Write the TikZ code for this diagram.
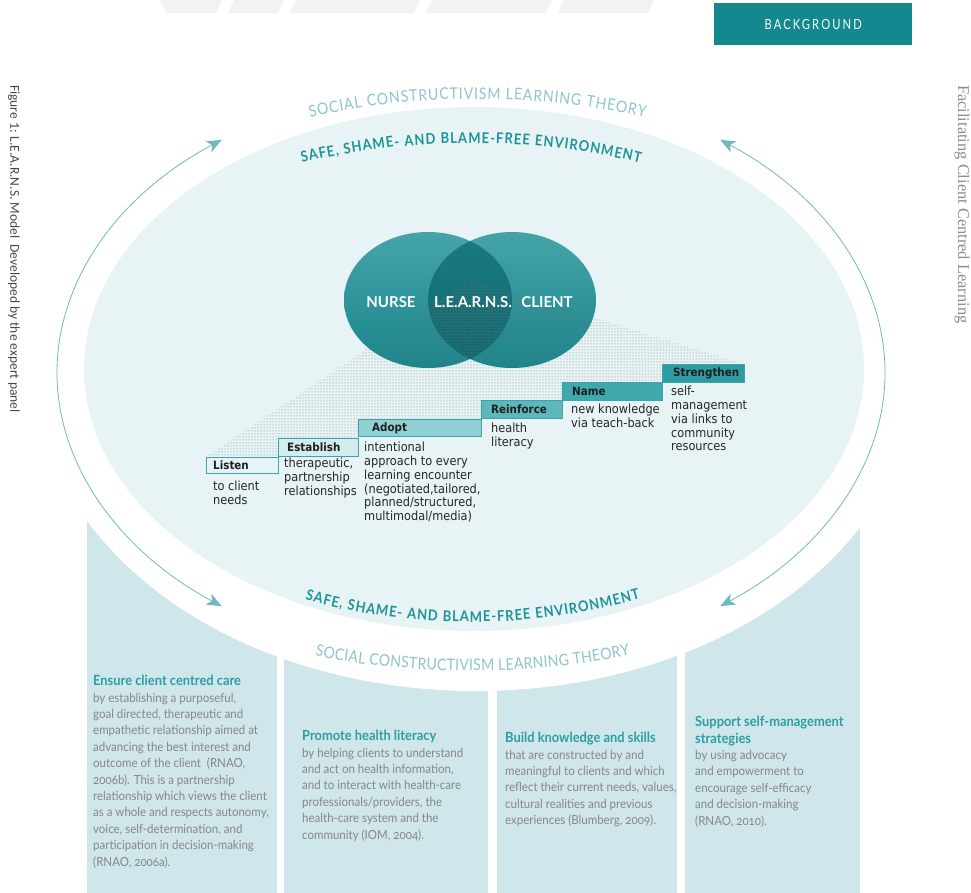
\documentclass[tikz,border=0pt]{standalone}
\usepackage{fontspec}
\setmainfont{Lato}
\newfontfamily\arcfont{Lato}[FakeStretch=0.88]
\newfontfamily\boxfont{Lato}[FakeStretch=0.92,Numbers=OldStyle]
\newfontfamily\bgfont{Lato}[FakeStretch=0.8,LetterSpace=15]
\newfontfamily\stepfont{DejaVu Sans}[FakeStretch=0.9]
\newfontfamily\capfont{Carlito}
\newfontfamily\runfont{Liberation Serif}
\usetikzlibrary{arrows.meta,decorations.text,patterns}

\definecolor{bannerc}{HTML}{13898F}
\definecolor{ellfill}{HTML}{E7F3F4}
\definecolor{boxfill}{HTML}{CFE6EA}
\definecolor{socialc}{HTML}{8CC6CA}
\definecolor{safec}{HTML}{1D949A}
\definecolor{arrowc}{HTML}{6FBABF}
\definecolor{titlec}{HTML}{2C9EA4}
\definecolor{bodyc}{HTML}{878787}
\definecolor{vennhi}{HTML}{45A4A9}
\definecolor{vennlo}{HTML}{1A858B}
\definecolor{lenshi}{HTML}{1A7A80}
\definecolor{lenslo}{HTML}{0E676E}
\definecolor{stepedge}{HTML}{3DA3A9}
\definecolor{stepA}{HTML}{E6F4F5}
\definecolor{stepB}{HTML}{D2ECEF}
\definecolor{stepC}{HTML}{8FD0D4}
\definecolor{stepD}{HTML}{5DB8BD}
\definecolor{stepE}{HTML}{40A9AE}
\definecolor{stepF}{HTML}{2E9DA3}
\definecolor{tabc}{HTML}{F2F2F2}

\tikzset{
  stepbox/.style={draw=stepedge, line width=1.1pt, inner sep=0pt, anchor=north west},
  steplabel/.style={font=\stepfont\bfseries\fontsize{11.5}{13}\selectfont, text=black!88, inner sep=0pt, anchor=west},
  stepbody/.style={font=\stepfont\fontsize{12.6}{13.8}\selectfont, align=left, inner sep=0pt, anchor=north west, text=black!85},
  bottombox/.style={fill=boxfill, inner sep=0pt, anchor=north west, minimum height=413pt},
  boxtext/.style={font=\boxfont\fontsize{12.5}{16.4}\selectfont, text=bodyc, align=left, inner sep=0pt, anchor=north west},
  venntext/.style={font=\bfseries\fontsize{15}{17}\selectfont, text=white, inner sep=0pt},
  cyclearrow/.style={draw=arrowc, line width=0.8pt,
    {Stealth[length=15pt,width=12pt,inset=4pt,fill=arrowc]}-{Stealth[length=15pt,width=12pt,inset=4pt,fill=arrowc]}},
  arctext/.style={decorate, decoration={text along path, text align=fit to path}},
}
\newcommand{\boxtitle}[1]{{\fontsize{14}{16.4}\selectfont\bfseries\color{titlec}#1}}

\begin{document}
\begin{tikzpicture}[x=1pt,y=1pt]
  % canvas
  \fill[white] (0,0) rectangle (971,-893);
  \path[use as bounding box] (0,0) rectangle (971,-893);

  % faint tabs along the top edge
  \fill[tabc] (160,0) -- (222,0) -- (216,-13) -- (166,-13) -- cycle;
  \fill[tabc] (234,0) -- (284,0) -- (278,-13) -- (228,-13) -- cycle;
  \fill[tabc] (296,0) -- (420,0) -- (414,-13) -- (290,-13) -- cycle;
  \fill[tabc] (432,0) -- (552,0) -- (546,-13) -- (426,-13) -- cycle;
  \fill[tabc] (564,0) -- (654,0) -- (648,-13) -- (558,-13) -- cycle;

  % section banner
  \node[fill=bannerc, minimum width=198pt, minimum height=42pt, inner sep=0pt, anchor=north west,
        font=\bgfont\fontsize{14}{16}\selectfont, text=white] (banner) at (714,-3) {BACKGROUND};

  % running heads
  \node[rotate=-90, anchor=west, inner sep=0pt, font=\capfont\fontsize{13.5}{15}\selectfont, text=black!72]
    (figcap) at (14,-85) {Figure 1: L.E.A.R.N.S. Model\ \ Developed by the expert panel};
  \node[rotate=-90, anchor=west, inner sep=0pt, font=\runfont\fontsize{16.4}{18}\selectfont, text=black!45]
    (runhead) at (962,-85) {Facilitating Client Centred Learning};

  % the four strategy columns
  \node[bottombox, minimum width=190pt] (box1) at (87,-480) {};
  \node[bottombox, minimum width=204pt] (box2) at (284,-480) {};
  \node[bottombox, minimum width=180pt] (box3) at (497,-480) {};
  \node[bottombox, minimum width=175pt] (box4) at (685,-480) {};

  % white band and the environment ellipse
  \fill[white] (476,-371) ellipse [x radius=440pt, y radius=320pt];
  \fill[ellfill] (474,-369) ellipse [x radius=390pt, y radius=262pt];

  % cycle arrows round the model
  \draw[cyclearrow] ([shift={(127:414 and 292)}]471,-373) arc [start angle=127, end angle=233, x radius=414pt, y radius=292pt];
  \draw[cyclearrow] ([shift={(53:414 and 292)}]471,-373) arc [start angle=53, end angle=-53, x radius=414pt, y radius=292pt];

  % curved captions
  \path[arctext, decoration={text color=socialc,
      text={|\arcfont\fontsize{16}{16}\selectfont|SOCIAL CONSTRUCTIVISM LEARNING THEORY}}]
    ([shift={(102.46:774)}]477,-873) arc [start angle=102.46, end angle=77.47, radius=774pt];
  \path[arctext, decoration={text color=safec,
      text={|\arcfont\bfseries\fontsize{14.8}{16}\selectfont|SAFE, SHAME- AND BLAME-FREE ENVIRONMENT}}]
    ([shift={(103.35:732)}]471,-875) arc [start angle=103.35, end angle=76.65, radius=732pt];
  \path[arctext, decoration={text color=safec,
      text={|\arcfont\bfseries\fontsize{14.8}{16}\selectfont|SAFE, SHAME- AND BLAME-FREE ENVIRONMENT}}]
    ([shift={(254.6:625)}]471,3) arc [start angle=254.6, end angle=285.7, radius=625pt];
  \path[arctext, decoration={text color=socialc,
      text={|\arcfont\fontsize{16}{16}\selectfont|SOCIAL CONSTRUCTIVISM LEARNING THEORY}}]
    ([shift={(258.94:813)}]471,142) arc [start angle=258.94, end angle=281.27, radius=813pt];

  % dotted floor fanning out from the circles to the steps
  \def\floor{(470,-280) -- (206,-457) -- (278,-457) -- (278,-438) -- (358,-438) -- (358,-419)
    -- (481,-419) -- (481,-400) -- (562,-400) -- (562,-382) -- (662,-382) -- (662,-364)
    -- (744,-364) -- cycle}
  \fill[pattern=dots, pattern color=black!50] \floor;

  % Venn circles
  \shade[top color=vennhi, bottom color=vennlo] (428,-300) ellipse [x radius=84pt, y radius=68pt];
  \shade[top color=vennhi, bottom color=vennlo] (512,-300) ellipse [x radius=84pt, y radius=68pt];
  \begin{scope}
    \clip (428,-300) ellipse [x radius=84pt, y radius=68pt];
    \shade[top color=lenshi, bottom color=lenslo] (512,-300) ellipse [x radius=84pt, y radius=68pt];
  \end{scope}
  \begin{scope}
    \clip \floor;
    \fill[pattern=dots, pattern color=black!55] (428,-300) ellipse [x radius=84pt, y radius=68pt];
    \fill[pattern=dots, pattern color=black!55] (512,-300) ellipse [x radius=84pt, y radius=68pt];
  \end{scope}
  \node[venntext] (nurse) at (391,-302) {NURSE};
  \node[venntext] (learns) at (473,-302) {L.E.A.R.N.S.};
  \node[venntext] (client) at (547,-302) {CLIENT};

  % staircase of steps
  \node[stepbox, fill=stepA, minimum width=72pt, minimum height=16pt] (listen) at (206,-457) {};
  \node[stepbox, fill=stepB, minimum width=80pt, minimum height=18pt] (establish) at (278,-438) {};
  \node[stepbox, fill=stepC, minimum width=123pt, minimum height=17pt] (adopt) at (358,-419) {};
  \node[stepbox, fill=stepD, minimum width=81pt, minimum height=18pt] (reinforce) at (481,-400) {};
  \node[stepbox, fill=stepE, minimum width=100pt, minimum height=18pt] (name) at (562,-382) {};
  \node[stepbox, fill=stepF, minimum width=82pt, minimum height=18pt] (strengthen) at (662,-364) {};

  \node[steplabel] (listenL) at ([xshift=7pt]listen.west) {Listen};
  \node[steplabel] (establishL) at ([xshift=9pt]establish.west) {Establish};
  \node[steplabel] (adoptL) at ([xshift=14pt]adopt.west) {Adopt};
  \node[steplabel] (reinforceL) at ([xshift=10pt]reinforce.west) {Reinforce};
  \node[steplabel] (nameL) at ([xshift=10pt]name.west) {Name};
  \node[steplabel] (strengthenL) at ([xshift=11pt]strengthen.west) {Strengthen};

  \node[stepbody] (listenT) at (213,-481) {to client\\needs};
  \node[stepbody] (establishT) at (284,-458) {therapeutic,\\partnership\\relationships};
  \node[stepbody] (adoptT) at (364,-442) {intentional\\approach to every\\learning encounter\\(negotiated,tailored,\\planned/structured,\\multimodal/media)};
  \node[stepbody] (reinforceT) at (491,-423) {health\\literacy};
  \node[stepbody] (nameT) at (571,-404) {new knowledge\\via teach-back};
  \node[stepbody] (strengthenT) at (671,-386) {self-\\management\\via links to\\community\\resources};

  % column texts
  \node[boxtext] (box1T) at (93,-675) {\boxtitle{Ensure client centred care}\\
    by establishing a purposeful,\\
    goal directed, therapeutic and\\
    empathetic relationship aimed at\\
    advancing the best interest and\\
    outcome of the client\ \ (RNAO,\\
    2006b). This is a partnership\\
    relationship which views the client\\
    as a whole and respects autonomy,\\
    voice, self-determination, and\\
    participation in decision-making\\
    (RNAO, 2006a).};
  \node[boxtext] (box2T) at (302,-730) {\boxtitle{Promote health literacy}\\
    by helping clients to understand\\
    and act on health information,\\
    and to interact with health-care\\
    professionals/providers, the\\
    health-care system and the\\
    community (IOM, 2004).};
  \node[boxtext] (box3T) at (505,-732) {\boxtitle{Build knowledge and skills}\\
    that are constructed by and\\
    meaningful to clients and which\\
    reflect their current needs, values,\\
    cultural realities and previous\\
    experiences (Blumberg, 2009).};
  \node[boxtext] (box4T) at (695,-716) {\boxtitle{Support self-management}\\
    \boxtitle{strategies}\\
    by using advocacy\\
    and empowerment to\\
    encourage self-efficacy\\
    and decision-making\\
    (RNAO, 2010).};
\end{tikzpicture}
\end{document}
